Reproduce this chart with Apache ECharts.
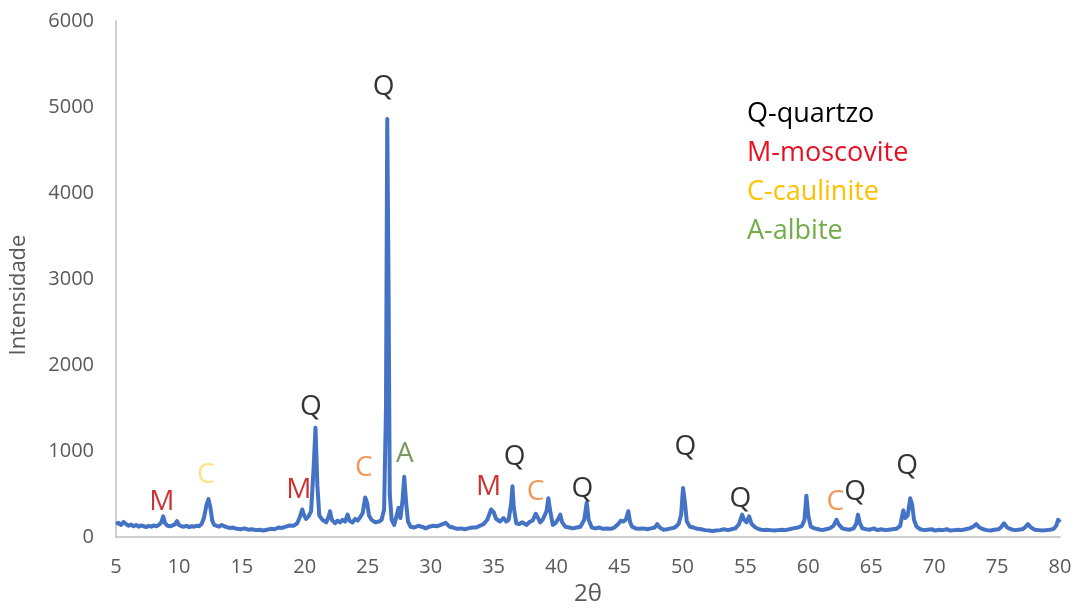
<!DOCTYPE html>
<html>
<head>
<meta charset="utf-8">
<script src="https://cdn.jsdelivr.net/npm/echarts@6/dist/echarts.min.js"></script>
<style>
  html, body { margin: 0; padding: 0; background: #ffffff; }
  #chart { width: 1076px; height: 615px; }
</style>
</head>
<body>
<div id="chart"></div>
<script>
// Diffraction pattern: 2θ (degrees) against counted intensity
const twoTheta = [
  5.0, 5.2, 5.4, 5.6, 5.8, 6.0, 6.2, 6.4, 6.6, 6.8, 7.0, 7.2, 7.4, 7.6, 7.8, 8.0, 8.2, 8.4, 8.6, 8.75, 8.9,
  9.1, 9.3, 9.5, 9.7, 9.85, 10.0, 10.2, 10.4, 10.6, 10.8, 11.0, 11.2, 11.4, 11.6, 11.8, 12.0, 12.2, 12.35, 12.5,
  12.65, 12.8, 13.0, 13.2, 13.4, 13.6, 13.8, 14.0, 14.3, 14.6, 14.9, 15.2, 15.5, 15.8, 16.1, 16.4, 16.7, 17.0,
  17.3, 17.6, 17.9, 18.2, 18.5, 18.8, 19.1, 19.4, 19.6, 19.8, 19.95, 20.1, 20.3, 20.5, 20.7, 20.85, 21.0, 21.15,
  21.4, 21.7, 21.9, 22.0, 22.15, 22.4, 22.6, 22.8, 23.0, 23.2, 23.4, 23.55, 23.8, 24.0, 24.2, 24.4, 24.6, 24.8,
  24.95, 25.1, 25.3, 25.6, 25.9, 26.1, 26.3, 26.45, 26.55, 26.65, 26.75, 26.9, 27.1, 27.3, 27.45, 27.6, 27.75,
  27.9, 28.05, 28.2, 28.4, 28.7, 29.0, 29.3, 29.6, 29.9, 30.2, 30.5, 30.8, 31.2, 31.5, 31.8, 32.1, 32.4, 32.7,
  33.0, 33.3, 33.6, 33.9, 34.2, 34.5, 34.8, 35.0, 35.2, 35.5, 35.8, 36.0, 36.2, 36.4, 36.5, 36.6, 36.8, 37.0,
  37.3, 37.6, 37.9, 38.1, 38.35, 38.5, 38.7, 38.9, 39.2, 39.35, 39.5, 39.7, 39.9, 40.1, 40.3, 40.45, 40.7, 41.0,
  41.3, 41.6, 41.9, 42.2, 42.4, 42.55, 42.8, 43.1, 43.4, 43.7, 44.0, 44.3, 44.6, 44.9, 45.1, 45.3, 45.5, 45.7,
  45.85, 46.0, 46.3, 46.6, 46.9, 47.2, 47.5, 47.8, 48.0, 48.2, 48.5, 48.8, 49.1, 49.4, 49.7, 49.9, 50.05, 50.2,
  50.35, 50.6, 50.9, 51.2, 51.5, 51.8, 52.1, 52.4, 52.7, 53.0, 53.3, 53.6, 53.9, 54.2, 54.5, 54.75, 54.9, 55.1,
  55.3, 55.5, 55.8, 56.1, 56.4, 56.7, 57.0, 57.3, 57.6, 57.9, 58.2, 58.5, 58.8, 59.2, 59.5, 59.7, 59.85, 60.0,
  60.2, 60.5, 60.8, 61.1, 61.4, 61.7, 62.0, 62.25, 62.4, 62.7, 63.0, 63.3, 63.6, 63.8, 63.95, 64.1, 64.3, 64.6,
  64.9, 65.2, 65.5, 65.8, 66.1, 66.4, 66.7, 67.0, 67.3, 67.55, 67.7, 67.9, 68.1, 68.25, 68.4, 68.6, 68.9, 69.2,
  69.5, 69.8, 70.1, 70.4, 70.7, 71.0, 71.3, 71.6, 71.9, 72.2, 72.5, 72.8, 73.1, 73.35, 73.6, 73.9, 74.2, 74.5,
  74.8, 75.1, 75.3, 75.55, 75.8, 76.1, 76.4, 76.7, 77.0, 77.2, 77.45, 77.7, 78.0, 78.3, 78.6, 78.9, 79.2, 79.5,
  79.7, 79.85, 80.0
];

const intensity = [
  150, 165, 140, 175, 150, 130, 145, 125, 140, 120, 135, 125, 115, 130, 120, 135, 125, 140, 170, 240, 160,
  130, 125, 135, 150, 185, 140, 125, 120, 130, 115, 125, 120, 130, 125, 150, 230, 380, 440, 340,
  190, 140, 130, 120, 140, 125, 115, 105, 110, 95, 90, 100, 85, 90, 80, 85, 75, 85,
  95, 90, 110, 105, 120, 135, 130, 160, 230, 320, 250, 210, 240, 300, 800, 1270, 600, 250,
  200, 170, 240, 300, 200, 160, 190, 170, 200, 180, 260, 190, 170, 210, 190, 230, 280, 460,
  400, 250, 200, 170, 180, 200, 320, 1500, 4860, 3000, 500, 200, 140, 250, 340, 220, 400,
  700, 400, 180, 120, 110, 130, 120, 100, 120, 130, 125, 140, 165, 120, 110, 95, 100, 90,
  100, 110, 110, 130, 150, 200, 320, 290, 210, 180, 220, 180, 200, 400, 590, 350, 160, 150,
  170, 140, 180, 190, 270, 230, 170, 200, 300, 450, 300, 140, 160, 200, 260, 170, 120, 110,
  100, 110, 120, 200, 400, 200, 110, 100, 110, 95, 100, 95, 110, 150, 190, 180, 200, 300,
  170, 120, 100, 95, 100, 90, 100, 110, 150, 110, 85, 90, 100, 110, 150, 260, 570, 400,
  180, 120, 110, 95, 90, 80, 75, 70, 75, 80, 90, 80, 90, 100, 150, 260, 200, 170,
  240, 150, 110, 90, 80, 85, 80, 75, 80, 85, 80, 90, 100, 110, 130, 200, 480, 250,
  120, 100, 90, 80, 90, 100, 130, 200, 150, 100, 90, 85, 100, 150, 260, 160, 100, 90,
  85, 100, 80, 90, 80, 85, 90, 95, 130, 310, 220, 250, 450, 380, 200, 120, 90, 80,
  85, 90, 75, 85, 80, 90, 75, 80, 85, 80, 90, 100, 120, 150, 110, 90, 80, 75,
  85, 90, 110, 160, 110, 90, 80, 85, 90, 110, 150, 110, 85, 80, 75, 80, 85, 95,
  130, 200, 170
];

// Phase letters placed above the peaks they identify
const peakLetters = ['M', 'C', 'M', 'Q', 'C', 'Q', 'A', 'M', 'Q', 'C', 'Q', 'Q', 'Q', 'C', 'Q', 'Q'];
const peakLetterX = [8.65, 12.14, 19.52, 20.48, 24.68, 26.27, 27.94, 34.6, 36.67, 38.33, 42.06, 50.24, 54.6, 62.14, 63.73, 67.86];
const peakLetterY = [407, 721, 547, 1512, 802, 5233, 965, 581, 930, 523, 558, 1047, 442, 407, 523, 826];
const peakLetterColor = ['#C00000', '#FFD966', '#C00000', '#000000', '#ED7D31', '#000000', '#548235', '#C00000',
  '#000000', '#ED7D31', '#000000', '#000000', '#000000', '#ED7D31', '#000000', '#000000'];

// Key to the phase letters
const keyTexts = ['Q-quartzo', 'M-moscovite', 'C-caulinite', 'A-albite'];
const keyColors = ['#000000', '#E81123', '#FFC000', '#70AD47'];

const xTicks = { min: 5, max: 80, interval: 5 };
const yTicks = { min: 0, max: 6000, interval: 1000 };

const FONT = '"Open Sans", "Noto Sans", sans-serif';

const pattern = twoTheta.map((t, i) => [t, intensity[i]]);
const letters = peakLetters.map((s, i) => ({
  value: [peakLetterX[i], peakLetterY[i]],
  name: s,
  label: { color: peakLetterColor[i] }
}));

const chart = echarts.init(document.getElementById('chart'), null, { renderer: 'canvas' });

chart.setOption({
  backgroundColor: '#ffffff',
  animation: false,
  grid: { left: 115, right: 16, top: 21, bottom: 78, containLabel: false },
  xAxis: {
    type: 'value',
    min: xTicks.min, max: xTicks.max, interval: xTicks.interval,
    name: '2θ',
    nameLocation: 'middle',
    nameGap: 44,
    nameTextStyle: { color: '#595959', fontSize: 24, fontFamily: FONT },
    axisLine: { show: true, lineStyle: { color: '#BFBFBF', width: 1.5 } },
    axisTick: { show: false },
    splitLine: { show: false },
    axisLabel: { color: '#595959', fontSize: 20, fontFamily: FONT, margin: 20 }
  },
  yAxis: {
    type: 'value',
    min: yTicks.min, max: yTicks.max, interval: yTicks.interval,
    name: 'Intensidade',
    nameLocation: 'middle',
    nameGap: 86,
    nameTextStyle: { color: '#595959', fontSize: 22, fontFamily: FONT, padding: [0, 32, 0, 0] },
    axisLine: { show: true, lineStyle: { color: '#BFBFBF', width: 1.5 } },
    axisTick: { show: false },
    splitLine: { show: false },
    axisLabel: { color: '#595959', fontSize: 20, fontFamily: FONT, margin: 22, formatter: v => String(v) }
  },
  series: [
    {
      type: 'line',
      data: pattern,
      showSymbol: false,
      symbol: 'none',
      lineStyle: { color: '#4472C4', width: 4, join: 'round' },
      z: 2
    },
    {
      type: 'scatter',
      data: letters,
      symbolSize: 1,
      itemStyle: { color: 'rgba(0,0,0,0)' },
      label: {
        show: true,
        position: 'inside',
        formatter: p => p.name,
        fontSize: 28,
        fontFamily: FONT
      },
      silent: true,
      z: 3
    }
  ],
  graphic: keyTexts.map((t, i) => ({
    type: 'text',
    left: 747,
    top: 101 + i * 39,
    style: { text: t, fill: keyColors[i], fontSize: 27, fontFamily: FONT }
  }))
});
</script>
</body>
</html>
